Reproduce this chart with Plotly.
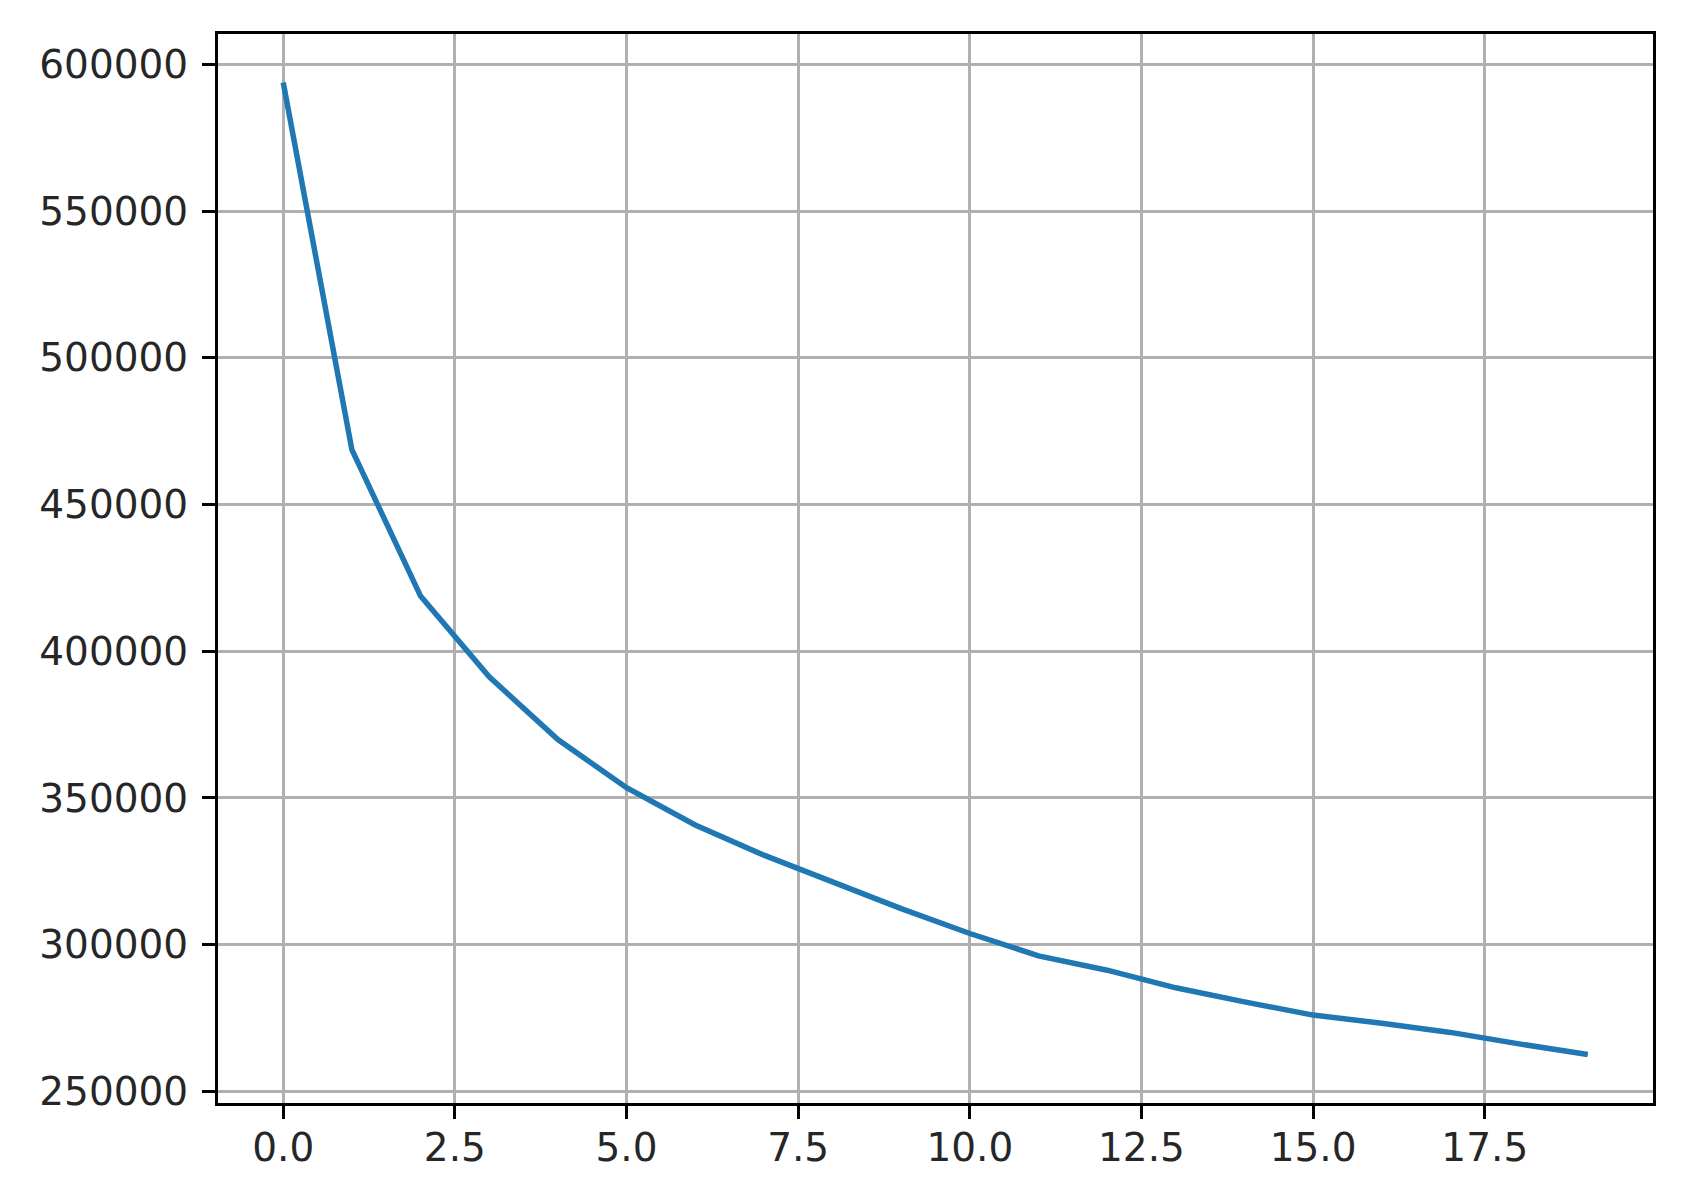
"""Decreasing curve, matplotlib-like styling in Plotly."""

import plotly.graph_objects as go

# ----- Data -----
STEPS = list(range(20))
VALUES = [
    593800, 468700, 418800, 391300, 369900,
    353500, 340800, 330500, 321400, 312300,
    303800, 296200, 291300, 285300, 280500,
    276000, 273200, 270100, 266200, 262600,
]
X_TICKS = [0.0, 2.5, 5.0, 7.5, 10.0, 12.5, 15.0, 17.5]
Y_TICKS = [250000, 300000, 350000, 400000, 450000, 500000, 550000, 600000]

LINE_COLOR = "#1f77b4"
GRID_COLOR = "#b0b0b0"
FONT = "DejaVu Sans"


def _padded_range(values, frac=0.05):
    lo, hi = min(values), max(values)
    pad = (hi - lo) * frac
    return [lo - pad, hi + pad]


fig = go.Figure(
    go.Scatter(
        x=STEPS,
        y=VALUES,
        mode="lines",
        line={"color": LINE_COLOR, "width": 5.5},
        showlegend=False,
    )
)

axis_style = dict(
    showline=True,
    linecolor="black",
    linewidth=3,
    mirror=True,
    ticks="outside",
    ticklen=13,
    tickwidth=3,
    tickcolor="black",
    showgrid=True,
    gridcolor=GRID_COLOR,
    gridwidth=2.6,
    zeroline=False,
    tickfont={"family": FONT, "size": 39, "color": "#262626"},
)

fig.update_xaxes(
    range=_padded_range(STEPS),
    tickvals=X_TICKS,
    ticktext=[f"{v:.1f}" for v in X_TICKS],
    ticklabelstandoff=-5,
    **axis_style,
)
fig.update_yaxes(
    range=_padded_range(VALUES),
    tickvals=Y_TICKS,
    ticktext=[str(v) for v in Y_TICKS],
    ticklabelstandoff=6,
    **axis_style,
)

fig.update_layout(
    width=1691,
    height=1195,
    paper_bgcolor="white",
    plot_bgcolor="white",
    margin={"l": 210, "r": 46, "t": 26, "b": 100},
    font={"family": FONT},
)

fig.write_html("out.html")
